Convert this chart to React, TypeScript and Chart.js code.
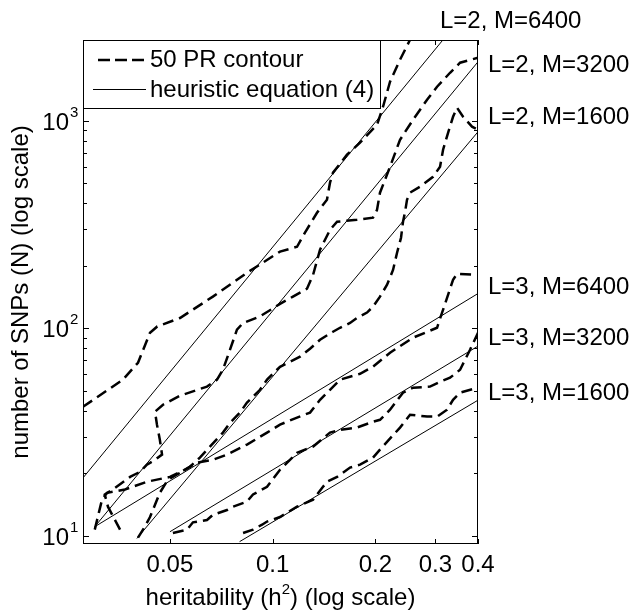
import React, { useEffect, useRef } from 'react';
import { Chart, registerables } from 'chart.js';

Chart.register(...registerables);

const FONT = '"Liberation Sans", Arial, Helvetica, sans-serif';

// Axis ranges (log-log)
const X_MIN = 0.0278;
const X_MAX = 0.4;
const Y_MIN = 9.12;
const Y_MAX = 2450;

// Tick values / labels
const xTickValues = [0.05, 0.1, 0.2, 0.3, 0.4];
const xTickLabels = ['0.05', '0.1', '0.2', '0.3', '0.4'];
const yTickValues = [10, 100, 1000];
const yTickExponents = ['1', '2', '3'];

// 50 PR contours (dashed): heritability h^2 and number of SNPs N
const hL2M6400 = [0.0278, 0.0364, 0.0403, 0.0437, 0.0459, 0.0535, 0.0668, 0.0841, 0.1051, 0.1179, 0.1244, 0.1349, 0.1443, 0.1473, 0.1503, 0.1652, 0.1804, 0.2023, 0.2107, 0.2209, 0.2363, 0.2528, 0.262];
const nL2M6400 = [41.8, 56.5, 68.2, 95.1, 102, 112, 142, 185, 234, 247, 289, 360, 416, 503, 562, 686, 784, 957, 1168, 1542, 1968, 2455, 2800];

const hL2M3200 = [0.0357, 0.0329, 0.0322, 0.0345, 0.0382, 0.0408, 0.0428, 0.0452, 0.0474, 0.0467, 0.0458, 0.0452, 0.0477, 0.0535, 0.0642, 0.0687, 0.0715, 0.075, 0.0786, 0.0819, 0.0918, 0.1051, 0.1147, 0.1261, 0.1314, 0.1377, 0.1473, 0.1545, 0.1767, 0.1969, 0.2023, 0.2064, 0.2209, 0.2363, 0.258, 0.2836, 0.3034, 0.3312, 0.3544, 0.4];
const nL2M3200 = [10.7, 13.8, 15.8, 17.0, 19.2, 20.3, 22.0, 23.2, 24.6, 29.0, 34.3, 39.6, 42.8, 47.3, 52.3, 56.5, 63.1, 78.8, 98.4, 106, 114, 131, 142, 155, 181, 239, 298, 326, 333, 341, 372, 450, 600, 810, 1011, 1262, 1458, 1703, 1904, 2012];

const hL2M1600 = [0.0403, 0.0422, 0.0437, 0.0452, 0.0467, 0.0493, 0.0535, 0.0572, 0.0612, 0.0655, 0.0715, 0.075, 0.0802, 0.0841, 0.0918, 0.0963, 0.1051, 0.1124, 0.1203, 0.1287, 0.1377, 0.1503, 0.1576, 0.1686, 0.1767, 0.1891, 0.1969, 0.2064, 0.2165, 0.2254, 0.2316, 0.2379, 0.2411, 0.2444, 0.2477, 0.2528, 0.2704, 0.2953, 0.3096, 0.316, 0.3268, 0.338, 0.3473, 0.3616, 0.3842, 0.4];
const nL2M1600 = [9.78, 11.05, 12.3, 14.1, 16.1, 18.6, 20.1, 21.5, 23.8, 26.9, 31.4, 35.0, 39.2, 43.8, 50.5, 56.5, 65.2, 68.9, 72.9, 79.6, 88.0, 96.2, 100.5, 106, 112, 119, 127, 142, 162, 191, 231, 273, 326, 362, 416, 450, 481, 537, 600, 725, 875, 1045, 1155, 1045, 936, 905];

const hL3M6400 = [0.0301, 0.0316, 0.0327, 0.0369, 0.0428, 0.05, 0.0553, 0.06, 0.0668, 0.0735, 0.0841, 0.0963, 0.1051, 0.1179, 0.1287, 0.1377, 0.1473, 0.1576, 0.1804, 0.1969, 0.2209, 0.258, 0.3034, 0.3139, 0.3246, 0.338, 0.3473, 0.4];
const nL3M6400 = [10.7, 14.9, 16.1, 16.7, 18.2, 19.2, 20.8, 22.5, 23.2, 24.6, 27.5, 31.4, 34.3, 37.1, 39.2, 45.2, 50.5, 56.5, 60.3, 65.2, 76.2, 90.0, 100.5, 119, 140, 171, 183, 181];

const hL3M3200 = [0.051, 0.0561, 0.0584, 0.0642, 0.0668, 0.0735, 0.0765, 0.0841, 0.0876, 0.0963, 0.1051, 0.1179, 0.1314, 0.1473, 0.1576, 0.1767, 0.1969, 0.2064, 0.2209, 0.2411, 0.258, 0.2893, 0.3096, 0.3312, 0.3544, 0.3791, 0.4];
const nL3M3200 = [10.3, 10.7, 11.6, 11.9, 12.6, 13.3, 13.8, 14.6, 15.8, 17.2, 20.8, 25.1, 26.9, 31.4, 32.4, 33.2, 35.4, 36.2, 40.5, 48.9, 51.7, 52.3, 55.2, 57.7, 63.1, 78.8, 95.1];

const hL3M1600 = [0.0819, 0.0876, 0.0931, 0.0963, 0.1051, 0.1179, 0.1314, 0.1405, 0.1443, 0.1545, 0.1686, 0.1804, 0.1969, 0.2064, 0.2363, 0.2528, 0.2836, 0.3034, 0.3246, 0.338, 0.3544, 0.4];
const nL3M1600 = [10.3, 10.7, 11.3, 11.7, 12.3, 13.8, 14.9, 17.2, 18.2, 19.2, 21.3, 22.0, 23.8, 26.0, 33.2, 38.3, 37.5, 37.5, 40.5, 45.2, 48.9, 51.7];

// Heuristic equation (4) lines (solid): end points
const hEqL2M6400 = [0.0278, 0.4];
const nEqL2M6400 = [19.0, 3938];
const hEqL2M3200 = [0.0301, 0.4];
const nEqL2M3200 = [11.05, 1924];
const hEqL2M1600 = [0.04, 0.4];
const nEqL2M1600 = [9.7, 885];
const hEqL3M6400 = [0.0301, 0.4];
const nEqL3M6400 = [11.05, 147];
const hEqL3M3200 = [0.05, 0.4];
const nEqL3M3200 = [10.45, 82];
const hEqL3M1600 = [0.08, 0.4];
const nEqL3M1600 = [9.36, 45];

// Curve annotations at the right
const curveLabelText = ['L=2, M=6400', 'L=2, M=3200', 'L=2, M=1600', 'L=3, M=6400', 'L=3, M=3200', 'L=3, M=1600'];
const curveLabelH = [0.3095, 0.4, 0.4, 0.4, 0.4, 0.4];
const curveLabelN = [3000, 1841, 1034, 158, 89, 48.3];

const legendLabels = ['50 PR contour', 'heuristic equation (4)'];

const pts = (h: number[], n: number[]) => h.map((v, i) => ({ x: v, y: n[i] }));

const dashed = (h: number[], n: number[]) => ({
  data: pts(h, n),
  borderColor: '#000',
  borderWidth: 2.5,
  borderDash: [11, 6],
  pointRadius: 0,
  fill: false,
  tension: 0,
});
const solid = (h: number[], n: number[]) => ({
  data: pts(h, n),
  borderColor: '#000',
  borderWidth: 1,
  pointRadius: 0,
  fill: false,
  tension: 0,
});

const decor = {
  id: 'decor',
  afterDraw(chart: any) {
    const { ctx, chartArea: ca, scales } = chart;
    const xs = scales.x;
    const ys = scales.y;
    const L = Math.round(ca.left);
    const R = Math.round(ca.right);
    const T = Math.round(ca.top);
    const B = Math.round(ca.bottom);
    ctx.save();
    ctx.strokeStyle = '#000';
    ctx.fillStyle = '#000';
    ctx.lineWidth = 1;
    ctx.setLineDash([]);

    // frame
    ctx.strokeRect(L + 0.5, T + 0.5, R - L - 1, B - T - 1);

    // y ticks (major + minor), inward on left and right
    ctx.beginPath();
    for (let d = 1; d <= 1000; d *= 10) {
      for (let m = 1; m <= 9; m++) {
        const v = m * d;
        if (v < Y_MIN || v > Y_MAX) continue;
        const py = Math.round(ys.getPixelForValue(v)) + 0.5;
        const len = m === 1 ? 6 : 4;
        ctx.moveTo(L, py); ctx.lineTo(L + len, py);
        ctx.moveTo(R, py); ctx.lineTo(R - len, py);
      }
    }
    // x ticks inward on bottom and top
    xTickValues.forEach((v) => {
      const px = Math.round(xs.getPixelForValue(v)) + 0.5;
      ctx.moveTo(px, B); ctx.lineTo(px, B - 5);
      ctx.moveTo(px, T); ctx.lineTo(px, T + 5);
    });
    ctx.stroke();

    // x tick labels
    ctx.font = `24px ${FONT}`;
    ctx.textAlign = 'center';
    ctx.textBaseline = 'alphabetic';
    xTickValues.forEach((v, i) => {
      ctx.fillText(xTickLabels[i], xs.getPixelForValue(v), B + 28);
    });

    // y tick labels 10^k
    yTickValues.forEach((v, i) => {
      const py = ys.getPixelForValue(v);
      ctx.font = `24px ${FONT}`;
      ctx.textAlign = 'right';
      ctx.fillText('10', L - 14, py + 9);
      ctx.font = `15px ${FONT}`;
      ctx.textAlign = 'left';
      ctx.fillText(yTickExponents[i], L - 13, py - 4);
    });

    // y axis title
    ctx.save();
    ctx.translate(28, (T + B) / 2);
    ctx.rotate(-Math.PI / 2);
    ctx.font = `24px ${FONT}`;
    ctx.textAlign = 'center';
    ctx.fillText('number of SNPs (N) (log scale)', 0, 0);
    ctx.restore();

    // x axis title with superscript
    {
      const p1 = 'heritability (h';
      const p2 = '2';
      const p3 = ') (log scale)';
      ctx.font = `24px ${FONT}`;
      const w1 = ctx.measureText(p1).width;
      const w3 = ctx.measureText(p3).width;
      ctx.font = `15px ${FONT}`;
      const w2 = ctx.measureText(p2).width;
      const total = w1 + w2 + w3;
      let x0 = (L + R) / 2 - total / 2;
      const by = B + 61;
      ctx.textAlign = 'left';
      ctx.font = `24px ${FONT}`;
      ctx.fillText(p1, x0, by);
      ctx.font = `15px ${FONT}`;
      ctx.fillText(p2, x0 + w1, by - 11);
      ctx.font = `24px ${FONT}`;
      ctx.fillText(p3, x0 + w1 + w2, by);
    }

    // curve labels
    ctx.font = `24px ${FONT}`;
    ctx.textAlign = 'left';
    ctx.textBaseline = 'middle';
    curveLabelText.forEach((t, i) => {
      const px = xs.getPixelForValue(curveLabelH[i]) + (curveLabelH[i] >= X_MAX ? 10 : 0);
      const py = ys.getPixelForValue(curveLabelN[i]);
      ctx.fillText(t, px, py);
    });

    // legend box
    const lx0 = L, ly0 = T, lx1 = 380, ly1 = 108;
    ctx.fillStyle = '#fff';
    ctx.fillRect(lx0, ly0, lx1 - lx0, ly1 - ly0);
    ctx.strokeStyle = '#000';
    ctx.lineWidth = 1;
    ctx.strokeRect(lx0 + 0.5, ly0 + 0.5, lx1 - lx0, ly1 - ly0);
    ctx.fillStyle = '#000';
    // entry 1: dashed
    ctx.beginPath();
    ctx.lineWidth = 2.5;
    ctx.setLineDash([12, 5]);
    ctx.moveTo(98, 60); ctx.lineTo(146, 60);
    ctx.stroke();
    // entry 2: solid
    ctx.beginPath();
    ctx.lineWidth = 1;
    ctx.setLineDash([]);
    ctx.moveTo(93, 89.5); ctx.lineTo(146, 89.5);
    ctx.stroke();
    ctx.font = `24px ${FONT}`;
    ctx.textAlign = 'left';
    ctx.textBaseline = 'alphabetic';
    ctx.fillText(legendLabels[0], 150, 67);
    ctx.fillText(legendLabels[1], 150, 97);

    ctx.restore();
  },
};

export default function App() {
  const ref = useRef<HTMLCanvasElement | null>(null);
  useEffect(() => {
    const canvas = ref.current;
    if (!canvas) return;
    const chart = new Chart(canvas, {
      type: 'line',
      data: {
        datasets: [
          dashed(hL2M6400, nL2M6400),
          dashed(hL2M3200, nL2M3200),
          dashed(hL2M1600, nL2M1600),
          dashed(hL3M6400, nL3M6400),
          dashed(hL3M3200, nL3M3200),
          dashed(hL3M1600, nL3M1600),
          solid(hEqL2M6400, nEqL2M6400),
          solid(hEqL2M3200, nEqL2M3200),
          solid(hEqL2M1600, nEqL2M1600),
          solid(hEqL3M6400, nEqL3M6400),
          solid(hEqL3M3200, nEqL3M3200),
          solid(hEqL3M1600, nEqL3M1600),
        ] as any,
      },
      options: {
        responsive: false,
        animation: false,
        devicePixelRatio: 1,
        layout: { padding: { left: 83, top: 40, right: 156, bottom: 68 } },
        scales: {
          x: { type: 'logarithmic', min: X_MIN, max: X_MAX, display: false },
          y: { type: 'logarithmic', min: Y_MIN, max: Y_MAX, display: false },
        },
        plugins: {
          legend: { display: false },
          tooltip: { enabled: false },
        },
        events: [],
      } as any,
      plugins: [decor],
    });
    return () => chart.destroy();
  }, []);
  return (
    <div style={{ position: 'absolute', left: 0, top: 0, width: 634, height: 612, background: '#fff' }}>
      <canvas ref={ref} width={634} height={612} style={{ display: 'block' }} />
    </div>
  );
}
